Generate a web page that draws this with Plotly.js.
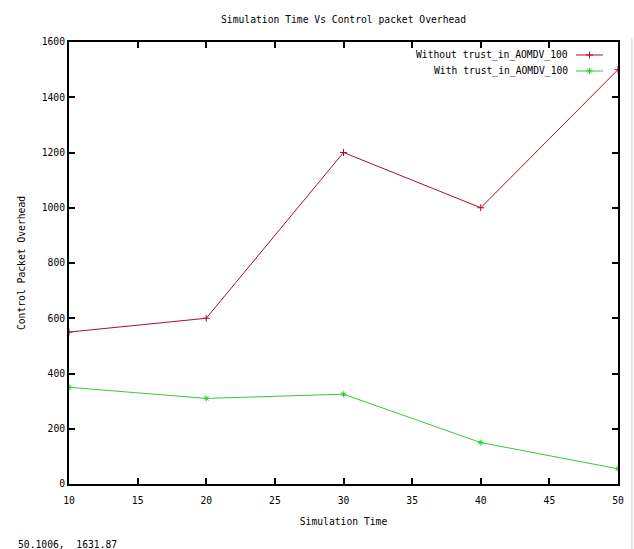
<!DOCTYPE html>
<html>
<head>
<meta charset="utf-8">
<script src="https://cdn.plot.ly/plotly-2.35.2.min.js"></script>
<style>html,body{margin:0;padding:0;background:#fff;}#chart{width:634px;height:549px;}</style>
</head>
<body>
<div id="chart"></div>
<script>
var simTime = [10, 20, 30, 40, 50];
var withoutTrust = [550, 600, 1200, 1000, 1500];
var withTrust = [350, 310, 325, 150, 55];
var seriesNames = ["Without trust_in_AOMDV_100", "With trust_in_AOMDV_100"];
var xTicks = [10, 15, 20, 25, 30, 35, 40, 45, 50];
var yTicks = [0, 200, 400, 600, 800, 1000, 1200, 1400, 1600];
var cursorText = "50.1006,  1631.87";

var FONT = "DejaVu Sans Mono, monospace";
var FS = 9.7;
var red = "#a8102a", green = "#33cc33";

var traces = [
  {x: simTime, y: withoutTrust, mode: "lines+markers", name: seriesNames[0],
   line: {color: red, width: 1}, marker: {symbol: "cross-thin-open", size: 5, color: red, line: {color: red, width: 1}}, showlegend: false},
  {x: simTime, y: withTrust, mode: "lines+markers", name: seriesNames[1],
   line: {color: green, width: 1}, marker: {symbol: "asterisk-open", size: 5, color: green, line: {color: green, width: 1}}, showlegend: false},
  {x: [0.5], y: [1], xaxis: "x2", yaxis: "y2", mode: "markers", cliponaxis: false, marker: {symbol: "cross-thin-open", size: 5, color: red, line: {color: red, width: 1}}, showlegend: false, hoverinfo: "skip"},
  {x: [0.5], y: [0], xaxis: "x2", yaxis: "y2", mode: "markers", cliponaxis: false, marker: {symbol: "asterisk-open", size: 5, color: green, line: {color: green, width: 1}}, showlegend: false, hoverinfo: "skip"}
];

var layout = {
  width: 634, height: 549,
  margin: {l: 69, r: 16, t: 42, b: 65},
  paper_bgcolor: "#fff", plot_bgcolor: "#fff",
  font: {family: FONT, size: FS, color: "#000"},
  title: {text: "Simulation Time Vs Control packet Overhead", font: {family: FONT, size: FS, color: "#000"}, xref: "paper", x: 0.5, xanchor: "center", y: 0.965, yanchor: "middle"},
  xaxis: {
    range: [10, 50], tickvals: xTicks, ticktext: xTicks.map(String),
    showgrid: false, zeroline: false, showline: true, linecolor: "#000", linewidth: 2,
    mirror: "ticks", ticks: "inside", ticklen: 6, tickwidth: 2, tickcolor: "#000",
    tickfont: {family: FONT, size: FS}, ticklabelstandoff: 6,
    title: {text: "Simulation Time", font: {family: FONT, size: FS}, standoff: 14}
  },
  yaxis: {
    range: [0, 1600], tickvals: yTicks, ticktext: yTicks.map(String),
    showgrid: false, zeroline: false, showline: true, linecolor: "#000", linewidth: 2,
    mirror: "ticks", ticks: "inside", ticklen: 6, tickwidth: 2, tickcolor: "#000",
    tickfont: {family: FONT, size: FS},
    title: {text: "Control Packet Overhead", font: {family: FONT, size: FS}, standoff: 14}
  },
  xaxis2: {domain: [0.9235, 0.9727], range: [0, 1], visible: false, fixedrange: true},
  yaxis2: {domain: [0.9344, 0.9706], range: [0, 1], visible: false, anchor: "x2", fixedrange: true},
  annotations: [
    {text: seriesNames[0], xref: "paper", yref: "paper", x: 0.9126, y: 0.9706, xanchor: "right", yanchor: "middle", showarrow: false, font: {family: FONT, size: FS}},
    {text: seriesNames[1], xref: "paper", yref: "paper", x: 0.9126, y: 0.9344, xanchor: "right", yanchor: "middle", showarrow: false, font: {family: FONT, size: FS}},
    {text: cursorText, xref: "paper", yref: "paper", x: -0.0965, y: -0.138, xanchor: "left", yanchor: "middle", showarrow: false, font: {family: FONT, size: FS}}
  ],
  shapes: [
    {type: "line", xref: "paper", yref: "paper", x0: 0.9235, x1: 0.9727, y0: 0.9706, y1: 0.9706, line: {color: red, width: 1}},
    {type: "line", xref: "paper", yref: "paper", x0: 0.9235, x1: 0.9727, y0: 0.9344, y1: 0.9344, line: {color: green, width: 1}},
    {type: "line", xref: "paper", yref: "paper", x0: 1.0255, x1: 1.0255, y0: -0.15, y1: 1.01, line: {color: "#cccccc", width: 1}}
  ]
};

Plotly.newPlot("chart", traces, layout, {staticPlot: true, displayModeBar: false});
</script>
</body>
</html>
